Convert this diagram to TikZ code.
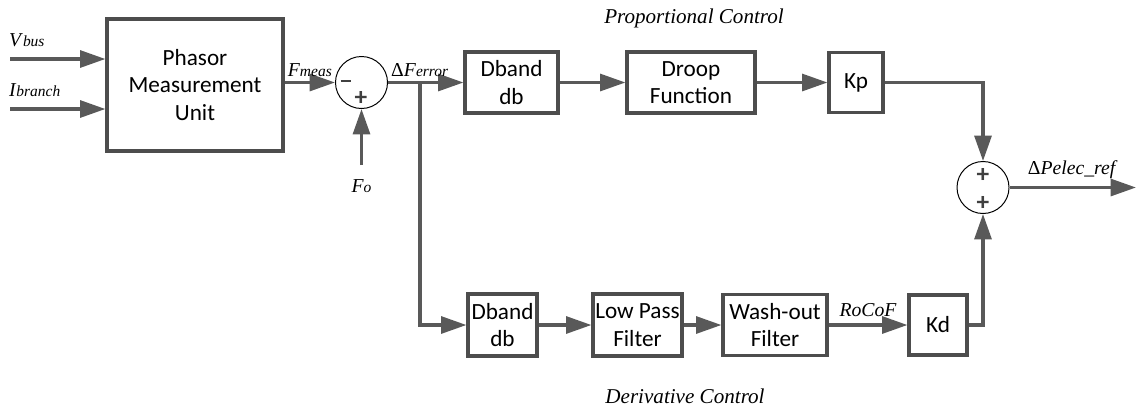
\documentclass[tikz,border=0pt]{standalone}
\usepackage{fontspec}
\setmainfont{Liberation Serif}
\newfontfamily\carlito{Carlito}
\usetikzlibrary{arrows.meta}
\definecolor{linegray}{HTML}{595959}
\definecolor{boxgray}{HTML}{4D4D4D}
% signal name with a small italic index on the baseline
\newcommand{\sigvar}[2]{\textit{#1}{\fontsize{11}{12}\selectfont\textit{#2}}}
\begin{document}
\begin{tikzpicture}[x=0.025cm,y=-0.025cm,
  block/.style={draw=boxgray,line width=2.2pt,fill=white,align=center,inner sep=1pt,font=\carlito\fontsize{16.5}{19.5}\selectfont},
  sumnode/.style={circle,draw=black,line width=0.7pt,minimum size=1.3cm,inner sep=0pt},
  sig/.style={draw=linegray,line width=2.3pt,-{Triangle[length=18pt,width=12pt]}},
  lbl/.style={font=\fontsize{14}{16}\selectfont,inner sep=2pt},
  sgn/.style={font=\carlito\bfseries\fontsize{18}{18}\selectfont,text=black!75,inner sep=0pt},
  title/.style={font=\itshape\fontsize{15}{17}\selectfont}]
\useasboundingbox (0,0) rectangle (1136,410);

% blocks
\node[block,minimum width=4.4cm,minimum height=3.3cm] (pmu) at (195,85) {Phasor\\Measurement\\Unit};
\node[sumnode] (sum1) at (361.5,82.5) {};
\node[block,minimum width=2.325cm,minimum height=1.525cm] (db1) at (511.5,82.5) {Dband\\db};
\node[block,minimum width=3.2cm,minimum height=1.525cm] (droop) at (691,82.5) {Droop\\Function};
\node[block,minimum width=1.35cm,minimum height=1.5cm] (kp) at (856,82.5) {Kp};
\node[sumnode] (sum2) at (983,187.5) {};

\node[block,minimum width=1.725cm,minimum height=1.55cm] (db2) at (502.5,325) {Dband\\db};
\node[block,minimum width=2.225cm,minimum height=1.55cm] (lpf) at (637.5,325) {Low Pass\\Filter};
\node[block,minimum width=2.6cm,minimum height=1.525cm] (wof) at (775,325) {Wash-out\\Filter};
\node[block,minimum width=1.45cm,minimum height=1.5cm] (kd) at (938,325) {Kd};

% signs
\node[sgn] (m1) at (346,81) {\rule{0.27cm}{1.7pt}};
\node[sgn] (p1) at (361,98) {+};
\node[sgn] (p2) at (983,175) {+};
\node[sgn] (p3) at (983,203) {+};

% titles
\node[title] (ptitle) at (694,18) {Proportional Control};
\node[title] (dtitle) at (685,396) {Derivative Control};

% inputs
\coordinate (vbus) at (10,59);
\coordinate (ibr) at (10,109);
\coordinate (fo) at (361.5,165);
\coordinate (br) at (420,82.5);
\coordinate (out) at (1136,187.5);

\draw[sig] (vbus) -- (vbus -| pmu.west);
\node[lbl,anchor=south west] (vlbl) at (6,50) {\sigvar{V}{bus}};
\draw[sig] (ibr) -- (ibr -| pmu.west);
\node[lbl,anchor=south west] (ilbl) at (6,100) {\sigvar{I}{branch}};

\draw[sig] (pmu.east |- sum1.west) -- (sum1.west) node[lbl,midway,above=1pt] {\sigvar{F}{meas}};
\draw[sig] (fo) -- (sum1.south);
\node[lbl] (folbl) at (361.5,186) {\sigvar{F}{o}};
\draw[sig] (sum1.east) -- (db1.west) node[lbl,pos=0.42,above=1pt] {Δ\sigvar{F}{error}};
\draw[sig] (br) |- (db2.west);

% proportional path
\draw[sig] (db1) -- (droop);
\draw[sig] (droop) -- (kp);
\draw[sig] (kp.east) -| (sum2.north);

% derivative path
\draw[sig] (db2) -- (lpf);
\draw[sig] (lpf) -- (wof);
\draw[sig] (wof) -- (kd) node[lbl,midway,above=3pt] {\textit{RoCoF}};
\draw[sig] (kd.east) -| (sum2.south);

\draw[sig] (sum2.east) -- (out) node[lbl,midway,above=3pt] {Δ\textit{Pelec\_ref}};
\end{tikzpicture}
\end{document}
